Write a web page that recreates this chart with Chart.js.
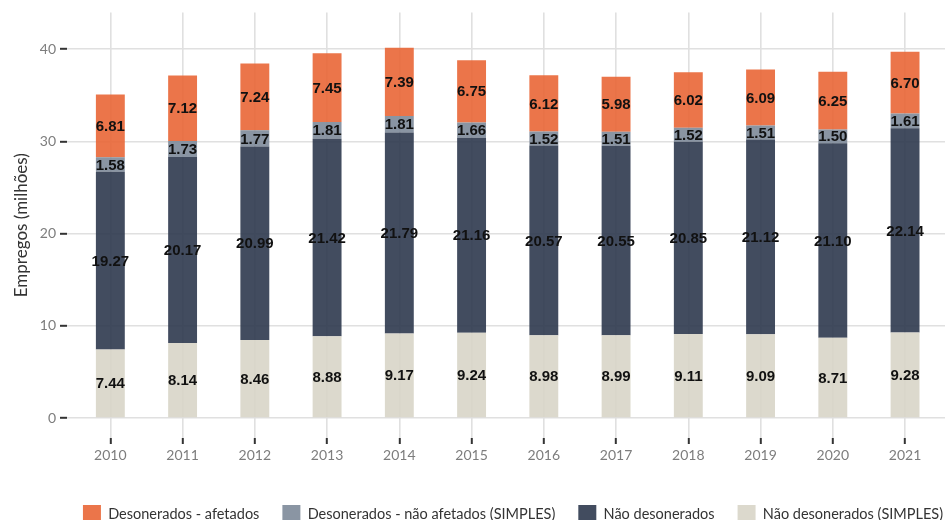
<!DOCTYPE html>
<html>
<head>
<meta charset="utf-8">
<script src="https://cdn.jsdelivr.net/npm/chart.js@4.4.1/dist/chart.umd.min.js"></script>
<style>
  html, body { margin: 0; padding: 0; background: #ffffff; }
  #wrap { width: 945px; height: 520px; overflow: hidden; position: relative; }
  canvas { display: block; }
</style>
</head>
<body>
<div id="wrap"><canvas id="c" width="1026" height="533"></canvas></div>
<script>
const years = [2010, 2011, 2012, 2013, 2014, 2015, 2016, 2017, 2018, 2019, 2020, 2021];
const naoDesoneradosSimples = [7.44, 8.14, 8.46, 8.88, 9.17, 9.24, 8.98, 8.99, 9.11, 9.09, 8.71, 9.28];
const naoDesonerados = [19.27, 20.17, 20.99, 21.42, 21.79, 21.16, 20.57, 20.55, 20.85, 21.12, 21.10, 22.14];
const desoneradosNaoAfetados = [1.58, 1.73, 1.77, 1.81, 1.81, 1.66, 1.52, 1.51, 1.52, 1.51, 1.50, 1.61];
const desoneradosAfetados = [6.81, 7.12, 7.24, 7.45, 7.39, 6.75, 6.12, 5.98, 6.02, 6.09, 6.25, 6.70];
const yTicks = [0, 10, 20, 30, 40];
const seriesNames = [
  'Não desonerados (SIMPLES)',
  'Não desonerados',
  'Desonerados - não afetados (SIMPLES)',
  'Desonerados - afetados'
];

const colors = [
  'rgba(216,213,200,0.9)',
  'rgba(46,57,78,0.9)',
  'rgba(125,138,153,0.9)',
  'rgba(233,102,54,0.9)'
];
const seriesValues = [naoDesoneradosSimples, naoDesonerados, desoneradosNaoAfetados, desoneradosAfetados];

const datasets = seriesValues.map((vals, i) => ({
  label: seriesNames[i],
  data: years.map((yr, j) => ({ x: yr, y: vals[j] })),
  backgroundColor: colors[i],
  borderWidth: 0,
  categoryPercentage: 1.0,
  barPercentage: 0.4
}));

const valueLabels = {
  id: 'valueLabels',
  afterDatasetsDraw(chart) {
    const ctx = chart.ctx;
    ctx.save();
    ctx.font = 'bold 15px "Liberation Sans", Arial, sans-serif';
    ctx.fillStyle = '#111111';
    ctx.textAlign = 'center';
    ctx.textBaseline = 'middle';
    chart.data.datasets.forEach((ds, di) => {
      const meta = chart.getDatasetMeta(di);
      meta.data.forEach((el, k) => {
        const v = ds.data[k].y;
        ctx.fillText(v.toFixed(2), el.x, (el.y + el.base) / 2 + 1);
      });
    });
    ctx.restore();
  }
};

new Chart(document.getElementById('c'), {
  type: 'bar',
  data: { datasets },
  plugins: [valueLabels],
  options: {
    responsive: false,
    animation: false,
    devicePixelRatio: 1,
    layout: { padding: { top: 12, left: 0, right: 0, bottom: 0 } },
    plugins: {
      tooltip: { enabled: false },
      legend: {
        position: 'bottom',
        reverse: true,
        labels: {
          boxWidth: 18,
          boxHeight: 18,
          padding: 23,
          color: '#333333',
          font: { family: 'Lato', size: 14.5 }
        }
      }
    },
    scales: {
      x: {
        type: 'linear',
        stacked: true,
        offset: false,
        min: 2009.4,
        max: 2021.6,
        afterBuildTicks: (s) => { s.ticks = years.map(v => ({ value: v })); },
        afterFit: (s) => { s.height = 44; },
        border: { display: false },
        grid: {
          offset: false,
          color: '#e0e0e0',
          lineWidth: 1.6,
          tickLength: 6,
          tickColor: '#333333',
          tickWidth: 2
        },
        ticks: {
          padding: 3,
          color: '#7d7d7d',
          font: { family: 'Lato', size: 14 },
          callback: (v) => String(v)
        }
      },
      y: {
        stacked: true,
        min: -2.17,
        max: 44,
        afterBuildTicks: (s) => { s.ticks = yTicks.map(v => ({ value: v })); },
        afterFit: (s) => { s.width = 67; },
        border: { display: false },
        grid: {
          color: '#e0e0e0',
          lineWidth: 1.6,
          tickLength: 7,
          tickColor: '#333333',
          tickWidth: 2
        },
        ticks: {
          padding: 4,
          color: '#7d7d7d',
          font: { family: 'Lato', size: 14 }
        },
        title: {
          display: true,
          text: 'Empregos (milhões)',
          color: '#333333',
          font: { family: 'Lato', size: 17 },
          padding: { top: 11, bottom: 0 }
        }
      },
      r: {
        type: 'linear',
        position: 'right',
        display: true,
        border: { display: false },
        grid: { display: false },
        ticks: { display: false },
        afterFit: (s) => { s.width = 77.6; }
      }
    }
  }
});
</script>
</body>
</html>
